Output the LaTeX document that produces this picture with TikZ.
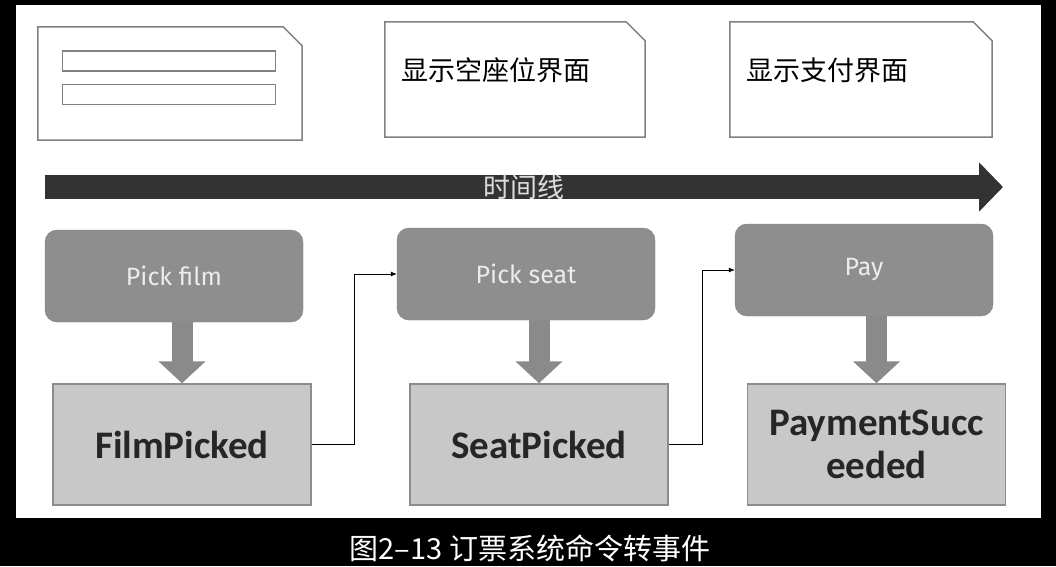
\documentclass[tikz,border=0pt]{standalone}
\usepackage{fontspec}
\setmainfont{Noto Sans CJK SC}
\newfontfamily\cmdfont{Fira Sans}
\newfontfamily\evtfont{Carlito}
\usetikzlibrary{positioning,calc,arrows.meta}

\definecolor{scrline}{HTML}{808080}
\definecolor{cmdgray}{HTML}{8E8E8E}
\definecolor{cmdtext}{HTML}{ECECEC}
\definecolor{evtgray}{HTML}{C8C8C8}
\definecolor{evtline}{HTML}{8C8C8C}
\definecolor{fatgray}{HTML}{8A8A8A}
\definecolor{tlgray}{HTML}{333333}

% outline of a screen node, top right corner cut off
\newcommand{\screenedge}[1]{%
    \draw[scrline, line width=1.5pt, line join=miter]
        (#1.south west) |- ($(#1.north east)+(-19,0)$)
        -- ($(#1.north east)+(0,19)$) |- cycle;}

\begin{document}
\begin{tikzpicture}[
    x=1pt, y=-1pt,
    screen/.style={inner sep=0pt},
    bar/.style={draw=scrline, line width=1.5pt, minimum width=213pt,
        minimum height=20pt, inner sep=0pt},
    scrtext/.style={anchor=west, inner sep=0pt, font=\fontsize{27}{30}\selectfont},
    command/.style={fill=cmdgray, draw=cmdgray!90!black, rounded corners=12pt,
        minimum width=258pt, minimum height=92pt, inner sep=0pt,
        text=cmdtext, font=\cmdfont\fontsize{25}{28}\selectfont},
    event/.style={fill=evtgray, draw=evtline, line width=1.5pt,
        minimum width=258pt, minimum height=121pt, inner sep=0pt, align=center,
        text=black!85, font=\evtfont\bfseries\fontsize{39}{43}\selectfont},
    fat/.style={draw=fatgray, line width=21pt,
        -{Triangle[length=22pt, width=46pt]}},
    flow/.style={draw, line width=0.8pt, -{Latex[length=6pt, width=5pt]}},
    timeline/.style={draw=tlgray, line width=24pt,
        -{Triangle[length=24pt, width=48pt]}}
]
    \useasboundingbox (0,0) rectangle (1056,566);
    \fill[black] (0,0) rectangle (1056,566);
    \fill[white] (16,5) rectangle (1041,518);

    % screens
    \node[screen, minimum width=264pt, minimum height=113pt] (scr1) at (170,83.5) {};
    \screenedge{scr1}
    \node[bar] (bar1) at (169,61) {};
    \node[bar, below=12pt of bar1] (bar2) {};
    \node[screen, minimum width=260pt, minimum height=115pt] (scr2) at (515,79.5) {};
    \screenedge{scr2}
    \node[scrtext] (scr2txt) at (401,70) {显示空座位界面};
    \node[screen, minimum width=262pt, minimum height=115pt] (scr3) at (861,79.5) {};
    \screenedge{scr3}
    \node[scrtext] (scr3txt) at (746,70) {显示支付界面};

    % time line
    \coordinate (tl0) at (45,187);
    \coordinate (tl1) at (1003,187);
    \draw[timeline] (tl0) -- (tl1)
        node[midway, text=cmdtext!85!gray, font=\fontsize{27}{30}\selectfont] (tllabel) {时间线};

    % commands
    \node[command] (film) at (174,276) {Pick film};
    \node[command] (seat) at (526,274) {Pick seat};
    \node[command] (pay) at (864,270) {Pay};

    % events
    \node[event] (filmpicked) at (182,444.5) {FilmPicked};
    \node[event] (seatpicked) at (539,444.5) {SeatPicked};
    \node[event] (paid) at (876.5,444.5) {PaymentSucc\\eeded};

    \draw[fat] (filmpicked.north |- film.south) -- (filmpicked.north);
    \draw[fat] (seatpicked.north |- seat.south) -- (seatpicked.north);
    \draw[fat] (paid.north |- pay.south) -- (paid.north);

    \draw[flow] (filmpicked.east) -- ++(43,0) |- (seat.west);
    \draw[flow] (seatpicked.east) -- ++(34,0) |- (pay.west);

    \node[text=white, font=\fontsize{29}{32}\selectfont] (caption) at (530,548)
        {图2–13 订票系统命令转事件};
\end{tikzpicture}
\end{document}
